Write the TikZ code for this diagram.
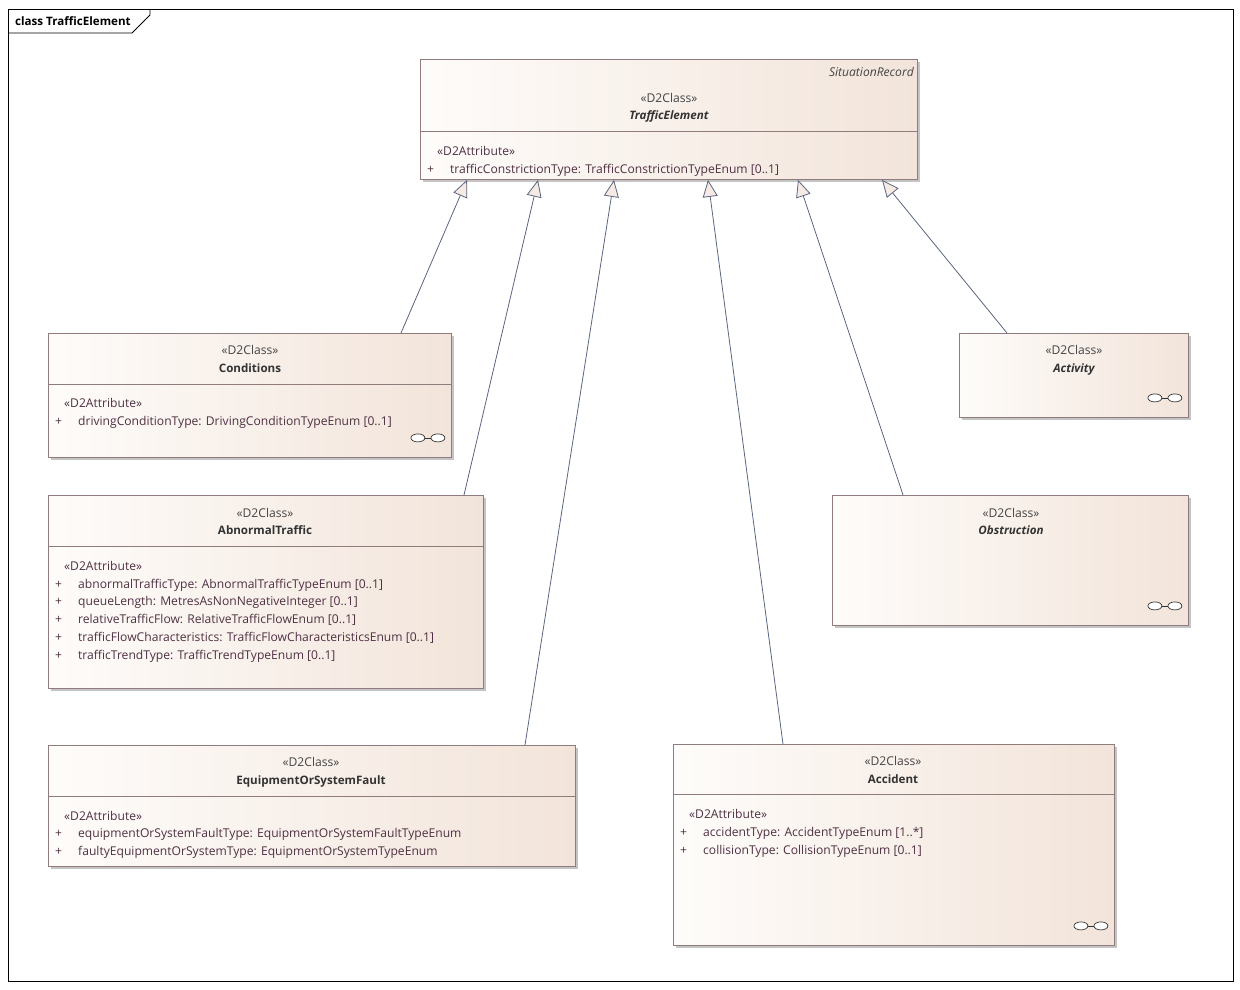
\documentclass[tikz,border=0pt]{standalone}
\usepackage{fontspec}
\setmainfont{Open Sans}
\usetikzlibrary{arrows.meta,shadows,calc}

\definecolor{boxborder}{HTML}{907C7C}
\definecolor{boxleft}{HTML}{FEFCFA}
\definecolor{boxright}{HTML}{F2E4DA}
\definecolor{boxshadow}{HTML}{C4C4C4}
\definecolor{genline}{HTML}{5C6580}
\definecolor{genfill}{HTML}{F5EAE4}
\definecolor{stereotext}{HTML}{444444}
\definecolor{nametext}{HTML}{333333}
\definecolor{attrtext}{HTML}{4E3042}

\tikzset{
	classbox/.style={draw=boxborder, line width=0.9pt, anchor=north west,
		left color=boxleft, right color=boxright, inner sep=0pt,
		general shadow={fill=boxshadow, shadow xshift=3pt, shadow yshift=-3pt}},
	stereo/.style={anchor=base, inner sep=0pt, text=stereotext,
		font=\fontsize{12.1}{14}\selectfont},
	cname/.style={anchor=base, inner sep=0pt, text=nametext,
		font=\fontsize{11.6}{14}\selectfont\bfseries},
	aname/.style={cname, font=\fontsize{11.6}{14}\selectfont\bfseries\itshape},
	attr/.style={anchor=base west, inner sep=0pt, text=attrtext,
		font=\fontsize{12.1}{14}\selectfont},
	gen/.style={genline, line width=0.8pt,
		-{Triangle[length=17pt, width=15pt, fill=genfill]}},
	sep/.style={boxborder, line width=0.9pt}
}

\newcommand{\linkicon}[1]{%
	\draw[nametext, line width=0.7pt, fill=white]
		($(#1.south east)+(-34,-20)$) ellipse [x radius=7, y radius=4];
	\draw[nametext, line width=0.7pt, fill=white]
		($(#1.south east)+(-14,-20)$) ellipse [x radius=7, y radius=4];
	\draw[nametext, line width=0.7pt]
		($(#1.south east)+(-27,-20)$) -- ($(#1.south east)+(-21,-20)$);
}

\begin{document}
\begin{tikzpicture}[x=1pt, y=-1pt]
		\useasboundingbox (0,0) rectangle (1240,989);

		% frame
		\draw[line width=0.8pt] (8,9) rectangle (1233,981);
		\draw[line width=0.8pt] (8,33) -- (132,33) -- (150,15) -- (150,9);
		\node[anchor=base west, inner sep=0pt, font=\fontsize{11.6}{14}\selectfont\bfseries]
			(frame) at (15,25) {class TrafficElement};

		% classes
		\node[classbox, minimum width=497pt, minimum height=120pt] (te) at (420,59) {};
		\node[classbox, minimum width=403pt, minimum height=124pt] (cond) at (48,333) {};
		\node[classbox, minimum width=435pt, minimum height=193pt] (abn) at (48,495) {};
		\node[classbox, minimum width=527pt, minimum height=121pt] (eqp) at (48,745) {};
		\node[classbox, minimum width=441pt, minimum height=201pt] (acc) at (673,744) {};
		\node[classbox, minimum width=229pt, minimum height=84pt] (act) at (959,333) {};
		\node[classbox, minimum width=356pt, minimum height=130pt] (obs) at (832,495) {};

		\draw[sep] ($(te.north west)+(0,72)$) -- ($(te.north east)+(0,72)$);
		\draw[sep] ($(cond.north west)+(0,51)$) -- ($(cond.north east)+(0,51)$);
		\draw[sep] ($(abn.north west)+(0,51)$) -- ($(abn.north east)+(0,51)$);
		\draw[sep] ($(eqp.north west)+(0,51)$) -- ($(eqp.north east)+(0,51)$);
		\draw[sep] ($(acc.north west)+(0,50)$) -- ($(acc.north east)+(0,50)$);

		% TrafficElement
		\node[anchor=base east, inner sep=0pt, text=stereotext,
			font=\fontsize{12.1}{14}\selectfont\itshape] (te-parent) at (914,76) {SituationRecord};
		\node[stereo] (te-st) at (669,102) {«D2Class»};
		\node[aname] (te-name) at (669,119) {TrafficElement};
		\node[attr] (te-ast) at (437,155) {«D2Attribute»};
		\node[attr] (te-p1) at (427,173) {+};
		\node[attr] (te-a1) at (450,173) {trafficConstrictionType: TrafficConstrictionTypeEnum [0..1]};

		% Conditions
		\node[stereo] (cond-st) at (250,354) {«D2Class»};
		\node[cname] (cond-name) at (250,372) {Conditions};
		\node[attr] (cond-ast) at (64,407) {«D2Attribute»};
		\node[attr] (cond-p1) at (55,425) {+};
		\node[attr] (cond-a1) at (78,425) {drivingConditionType: DrivingConditionTypeEnum [0..1]};
		\linkicon{cond}

		% AbnormalTraffic
		\node[stereo] (abn-st) at (265,517) {«D2Class»};
		\node[cname] (abn-name) at (265,534) {AbnormalTraffic};
		\node[attr] (abn-ast) at (64,570) {«D2Attribute»};
		\foreach \i/\t in {0/{abnormalTrafficType: AbnormalTrafficTypeEnum [0..1]},
				1/{queueLength: MetresAsNonNegativeInteger [0..1]},
				2/{relativeTrafficFlow: RelativeTrafficFlowEnum [0..1]},
				3/{trafficFlowCharacteristics: TrafficFlowCharacteristicsEnum [0..1]},
				4/{trafficTrendType: TrafficTrendTypeEnum [0..1]}} {
			\node[attr] (abn-p\i) at (55,{588+17.8*\i}) {+};
			\node[attr] (abn-a\i) at (78,{588+17.8*\i}) {\t};
		}

		% EquipmentOrSystemFault
		\node[stereo] (eqp-st) at (311,766) {«D2Class»};
		\node[cname] (eqp-name) at (311,784) {EquipmentOrSystemFault};
		\node[attr] (eqp-ast) at (64,820) {«D2Attribute»};
		\node[attr] (eqp-p1) at (55,837) {+};
		\node[attr] (eqp-a1) at (78,837) {equipmentOrSystemFaultType: EquipmentOrSystemFaultTypeEnum};
		\node[attr] (eqp-p2) at (55,855) {+};
		\node[attr] (eqp-a2) at (78,855) {faultyEquipmentOrSystemType: EquipmentOrSystemTypeEnum};

		% Accident
		\node[stereo] (acc-st) at (893,765) {«D2Class»};
		\node[cname] (acc-name) at (893,783) {Accident};
		\node[attr] (acc-ast) at (689,818) {«D2Attribute»};
		\node[attr] (acc-p1) at (680,836) {+};
		\node[attr] (acc-a1) at (703,836) {accidentType: AccidentTypeEnum [1..*]};
		\node[attr] (acc-p2) at (680,854) {+};
		\node[attr] (acc-a2) at (703,854) {collisionType: CollisionTypeEnum [0..1]};
		\linkicon{acc}

		% Activity
		\node[stereo] (act-st) at (1074,354) {«D2Class»};
		\node[aname] (act-name) at (1074,372) {Activity};
		\linkicon{act}

		% Obstruction
		\node[stereo] (obs-st) at (1011,517) {«D2Class»};
		\node[aname] (obs-name) at (1011,534) {Obstruction};
		\linkicon{obs}

		% generalisations
		\foreach \c/\cx/\px in {cond/353/47, abn/416/118, eqp/477/194,
				acc/110/288, obs/71/378, act/48/462}
			\draw[gen] ([xshift=\cx]\c.north west) -- ([xshift=\px]te.south west);
	\end{tikzpicture}
\end{document}
